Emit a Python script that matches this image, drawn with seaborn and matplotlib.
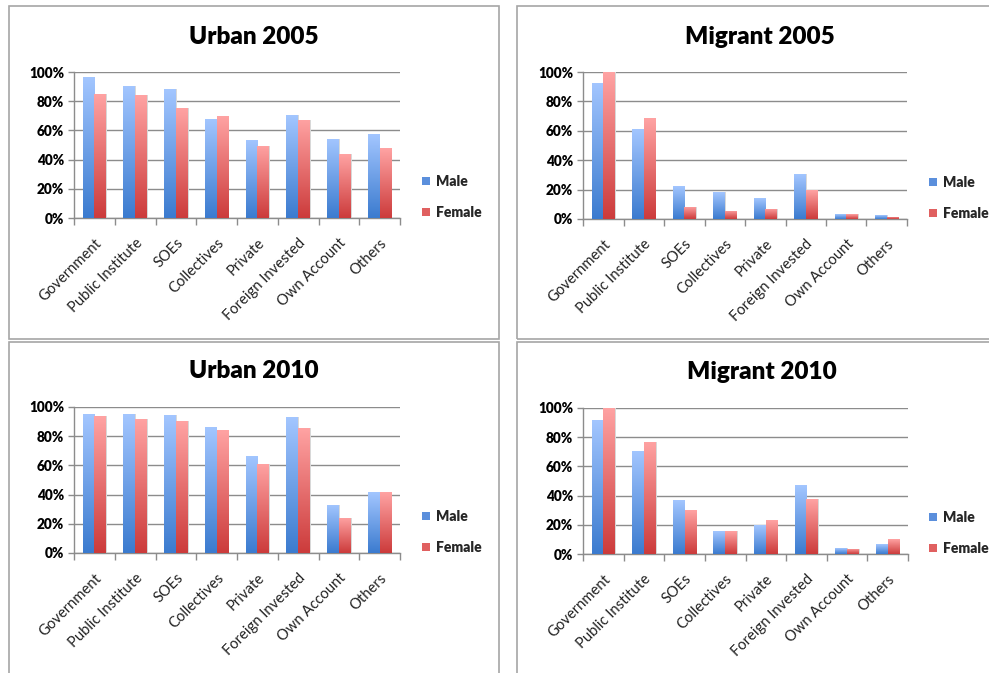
import numpy as np
import pandas as pd
import matplotlib
matplotlib.use("Agg")
import matplotlib.pyplot as plt
import seaborn as sns
from matplotlib.colors import LinearSegmentedColormap
from matplotlib.patches import Rectangle
from matplotlib.ticker import FuncFormatter

# Employment sectors and shares (fraction of workers) by gender
sectors = ["Government", "Public Institute", "SOEs", "Collectives", "Private",
           "Foreign Invested", "Own Account", "Others"]
genders = ["Male", "Female"]

urban_2005_male = [0.963, 0.906, 0.881, 0.680, 0.535, 0.705, 0.542, 0.574]
urban_2005_female = [0.851, 0.842, 0.753, 0.696, 0.494, 0.673, 0.437, 0.478]
migrant_2005_male = [0.927, 0.611, 0.222, 0.181, 0.142, 0.304, 0.034, 0.027]
migrant_2005_female = [1.000, 0.684, 0.085, 0.055, 0.071, 0.197, 0.034, 0.016]
urban_2010_male = [0.952, 0.952, 0.943, 0.863, 0.666, 0.929, 0.330, 0.416]
urban_2010_female = [0.936, 0.920, 0.904, 0.842, 0.613, 0.856, 0.240, 0.416]
migrant_2010_male = [0.916, 0.706, 0.367, 0.157, 0.198, 0.472, 0.041, 0.068]
migrant_2010_female = [1.000, 0.770, 0.301, 0.157, 0.230, 0.376, 0.036, 0.100]

panels = [
    ("Urban 2005", urban_2005_male, urban_2005_female),
    ("Migrant 2005", migrant_2005_male, migrant_2005_female),
    ("Urban 2010", urban_2010_male, urban_2010_female),
    ("Migrant 2010", migrant_2010_male, migrant_2010_female),
]

sns.set_theme(style="white")
plt.rcParams["font.family"] = ["Lato", "DejaVu Sans"]

W, H = 989, 673
fig = plt.figure(figsize=(W / 100, H / 100), dpi=100)
fig.patch.set_facecolor("white")


def fig_rect(x0, y0, x1, y1):
    return [x0 / W, 1 - y1 / H, (x1 - x0) / W, (y1 - y0) / H]


# chart frames
frames = [(9, 6, 499, 339), (517, 6, 1010, 339), (9, 342, 499, 690), (517, 342, 1010, 690)]
for x0, y0, x1, y1 in frames:
    fig.patches.append(Rectangle((x0 / W, 1 - y1 / H), (x1 - x0) / W, (y1 - y0) / H,
                                 transform=fig.transFigure, fill=False,
                                 edgecolor="#a6a6a6", linewidth=1.2, zorder=0))

# plot areas, titles and legend anchors (pixel layout)
layout = [
    dict(ax=(74, 72, 400, 218), title=(254, 37), leg=(422, 197)),
    dict(ax=(583, 72, 907, 219), title=(760, 37), leg=(929, 198)),
    dict(ax=(74, 407, 400, 553), title=(254, 371), leg=(422, 532)),
    dict(ax=(583, 408, 908, 554), title=(762, 372), leg=(929, 533)),
]

palette = {"Male": "#5b8fdc", "Female": "#e06060"}
gradients = {
    "Male": LinearSegmentedColormap.from_list("m", ["#3b7bcf", "#a3c6ff"]),
    "Female": LinearSegmentedColormap.from_list("f", ["#cc3b3b", "#ffa3a3"]),
}
grad = np.linspace(0, 1, 256).reshape(-1, 1)

for (title, male, female), lay in zip(panels, layout):
    df = pd.DataFrame({
        "sector": sectors * 2,
        "gender": ["Male"] * len(sectors) + ["Female"] * len(sectors),
        "share": list(male) + list(female),
    })
    ax = fig.add_axes(fig_rect(*lay["ax"]))
    sns.barplot(data=df, x="sector", y="share", hue="gender", hue_order=genders,
                palette=palette, width=0.58, saturation=1, ax=ax, zorder=3,
                linewidth=0, order=sectors)

    # vertical gradient fill for each bar
    for gender, cont in zip(genders, ax.containers):
        for bar in cont:
            x0 = bar.get_x()
            w = bar.get_width()
            h = bar.get_height()
            im = ax.imshow(grad, cmap=gradients[gender], origin="lower",
                           extent=[x0, x0 + w, 0, h], aspect="auto",
                           interpolation="bilinear", zorder=4)
            im.set_clip_path(bar)
            # faint shadow on the right side
            ax.add_patch(Rectangle((x0 + w, 0), 0.02, h, facecolor="#d8d8d8",
                                   edgecolor="none", zorder=2))

    ax.set_xlim(-0.5, 7.5)
    ax.set_ylim(0, 1)
    ax.set_yticks(np.arange(0, 1.01, 0.2))
    ax.yaxis.set_major_formatter(FuncFormatter(lambda v, p: f"{v * 100:.0f}%"))
    ax.grid(axis="y", color="#8c8c8c", linewidth=1.0, zorder=1)
    ax.set_axisbelow(True)
    ax.set_xlabel("")
    ax.set_ylabel("")

    ax.set_xticks(np.arange(len(sectors)))
    ax.set_xticklabels(sectors, rotation=45, ha="right", rotation_mode="anchor",
                       fontsize=10.6, color="#222222")
    ax.set_xticks(np.arange(-0.5, len(sectors), 1), minor=True)
    ax.tick_params(axis="x", which="major", length=0, pad=13)
    ax.tick_params(axis="x", which="minor", length=5, color="#8c8c8c", width=1,
                   direction="out", bottom=True)
    ax.tick_params(axis="y", length=4, color="#8c8c8c", width=1, direction="out",
                   left=True, pad=3)
    for lbl in ax.get_yticklabels():
        lbl.set_fontweight("heavy")
        lbl.set_fontsize(9.8)
        lbl.set_color("#000000")

    for side in ("top", "right"):
        ax.spines[side].set_visible(False)
    for side in ("left", "bottom"):
        ax.spines[side].set_color("#8c8c8c")
        ax.spines[side].set_linewidth(1.0)

    lx, ly = lay["leg"]
    sns.move_legend(ax, loc="center left", bbox_to_anchor=(lx / W, 1 - ly / H),
                    bbox_transform=fig.transFigure, frameon=False, title=None,
                    prop={"weight": "heavy", "size": 10}, handlelength=0.55,
                    handleheight=0.55, handletextpad=0.45, labelspacing=1.3,
                    borderpad=0, borderaxespad=0)

    tx, ty = lay["title"]
    fig.text(tx / W, 1 - ty / H, title, ha="center", va="center",
             fontsize=17.5, fontweight="heavy", color="#000000")

fig.savefig("out.png", dpi=100, facecolor="white")
